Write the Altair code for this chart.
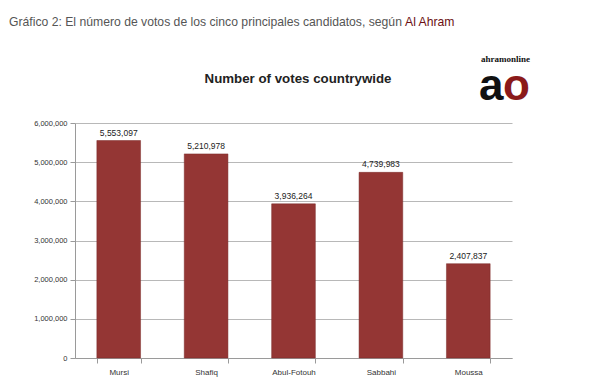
import altair as alt
import pandas as pd

candidates = ["Mursi", "Shafiq", "Abul-Fotouh", "Sabbahi", "Moussa"]
votes = [5553097, 5210978, 3936264, 4739983, 2407837]
y_ticks = [0, 1000000, 2000000, 3000000, 4000000, 5000000, 6000000]

header_text = "Gráfico 2: El número de votos de los cinco principales candidatos, según"
header_link = "Al Ahram"
chart_title = "Number of votes countrywide"

df = pd.DataFrame({"candidate": candidates, "votes": votes})
df["label"] = [f"{v:,}" for v in votes]

W, H = 437, 235

base = alt.Chart(df).encode(
    x=alt.X("candidate:N", sort=candidates, title=None,
            scale=alt.Scale(paddingInner=0.5, paddingOuter=0.25),
            axis=alt.Axis(labelAngle=0, labelFontSize=8, labelColor="#333333",
                          tickBand="extent", domainColor="#9a9a9a", tickColor="#9a9a9a",
                          tickSize=5, labelPadding=5)),
    y=alt.Y("votes:Q", title=None,
            scale=alt.Scale(domain=[0, 6000000], nice=False),
            axis=alt.Axis(values=y_ticks, format=",.0f", labelFontSize=7.5, labelColor="#333333",
                          grid=True, gridColor="#b8b8b8", domainColor="#9a9a9a",
                          tickColor="#9a9a9a", tickSize=5, labelPadding=3)),
)

bars = base.mark_bar(color="#943634", stroke="#7a2a28", strokeWidth=0.5)
labels = base.mark_text(dy=-8, fontSize=8.5, color="#222222", font="Liberation Sans").encode(text="label:N")

hdr = alt.Chart(pd.DataFrame({"t": [header_text]})).mark_text(
    align="left", baseline="middle", fontSize=12.2, color="#555555", font="Liberation Sans"
).encode(x=alt.value(-66), y=alt.value(-101), text="t:N")

hdr2 = alt.Chart(pd.DataFrame({"t": [header_link]})).mark_text(
    align="left", baseline="middle", fontSize=12.2, color="#6b0f12", font="Liberation Sans"
).encode(x=alt.value(330), y=alt.value(-101), text="t:N")

ttl = alt.Chart(pd.DataFrame({"t": [chart_title]})).mark_text(
    align="center", baseline="middle", fontSize=13.3, fontWeight="bold", color="#222222",
    font="Liberation Sans"
).encode(x=alt.value(223), y=alt.value(-44), text="t:N")

logo1 = alt.Chart(pd.DataFrame({"t": ["ahramonline"]})).mark_text(
    align="left", baseline="middle", fontSize=9, fontWeight="bold", color="#111111",
    font="Liberation Sans Narrow"
).encode(x=alt.value(406), y=alt.value(-64), text="t:N")

logo_a = alt.Chart(pd.DataFrame({"t": ["a"]})).mark_text(
    align="left", baseline="alphabetic", fontSize=44, fontWeight="bold", color="#111111",
    font="Liberation Sans"
).encode(x=alt.value(404), y=alt.value(-23), text="t:N")

logo_o = alt.Chart(pd.DataFrame({"t": ["o"]})).mark_text(
    align="left", baseline="alphabetic", fontSize=44, fontWeight="bold", color="#8b1a1a",
    font="Liberation Sans"
).encode(x=alt.value(428), y=alt.value(-23), text="t:N")

chart = alt.layer(bars, labels, hdr, hdr2, ttl, logo1, logo_a, logo_o).properties(
    width=W, height=H,
    autosize=alt.AutoSizeParams(type="none"),
    padding={"left": 67, "top": 115, "right": 80, "bottom": 20},
    background="white",
).configure_view(stroke=None)

chart.save("out.html", embed_options={"renderer": "svg", "actions": False})
